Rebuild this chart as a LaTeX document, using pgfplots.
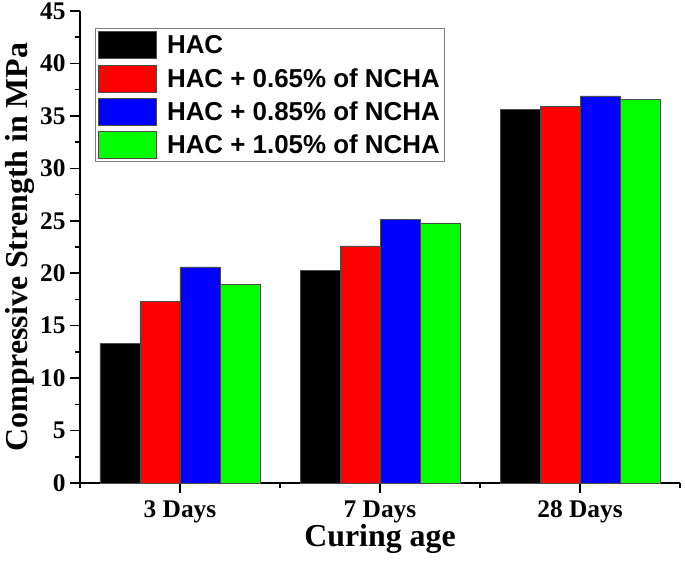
\documentclass[border=0pt]{standalone}
\usepackage{pgfplots}
\pgfplotsset{compat=1.18}
\usepackage{fontspec}
\setmainfont{Liberation Serif}
\newfontfamily\legfont{Liberation Sans}
\definecolor{gG}{RGB}{0,255,0}
\definecolor{rR}{RGB}{255,0,0}
\definecolor{bB}{RGB}{0,0,255}
\begin{document}
\begin{tikzpicture}
\useasboundingbox (-80bp,-79bp) rectangle (605bp,483bp);
\begin{axis}[
  at={(0,0)}, anchor=south west,
  scale only axis, width=600bp, height=472bp,
  ybar=0pt, bar width=40bp,
  xmin=-0.5, xmax=2.5, ymin=0, ymax=45,
  axis x line*=bottom, axis y line*=left,
  axis line style={line width=1.6bp,-},
  xtick={0,1,2}, xticklabels={3 Days,7 Days,28 Days},
  minor xtick={-0.5,0.5,1.5,2.5},
  ytick={0,5,...,45}, minor ytick={2.5,7.5,...,42.5},
  tick align=outside,
  major tick length=10bp, minor tick length=5bp,
  tick style={line width=1.6bp,black},
  tick label style={font=\fontsize{25.5}{25.5}\selectfont\bfseries},
  /pgf/number format/assume math mode=true,
  yticklabel style={xshift=-1bp},
  xticklabel style={yshift=-4bp},
  xlabel={Curing age}, ylabel={Compressive Strength in MPa},
  label style={font=\fontsize{32}{32}\selectfont\bfseries},
  xlabel style={yshift=5bp},
  ylabel style={yshift=-1bp},
  legend cell align=left,
  legend image code/.code={\draw[#1] (0bp,-13.5bp) rectangle (58bp,13.5bp); \path (66bp,0bp);},
  legend style={at={(0.025,0.964)}, anchor=north west,
    font=\legfont\fontsize{26}{26}\selectfont\bfseries,
    draw=gray, line width=1bp, inner sep=3bp, row sep=5.5bp,
    nodes={inner sep=2bp}},
]
\addplot[fill=black, draw=black!70, line width=0.6bp] coordinates {(0,13.3) (1,20.3) (2,35.6)};
\addplot[fill=rR, draw=black!70, line width=0.6bp] coordinates {(0,17.3) (1,22.6) (2,35.9)};
\addplot[fill=bB, draw=black!70, line width=0.6bp] coordinates {(0,20.6) (1,25.1) (2,36.9)};
\addplot[fill=gG, draw=black!70, line width=0.6bp] coordinates {(0,18.9) (1,24.8) (2,36.6)};
\legend{HAC, HAC + 0.65\% of NCHA, HAC + 0.85\% of NCHA, HAC + 1.05\% of NCHA}
\end{axis}
\end{tikzpicture}
\end{document}
